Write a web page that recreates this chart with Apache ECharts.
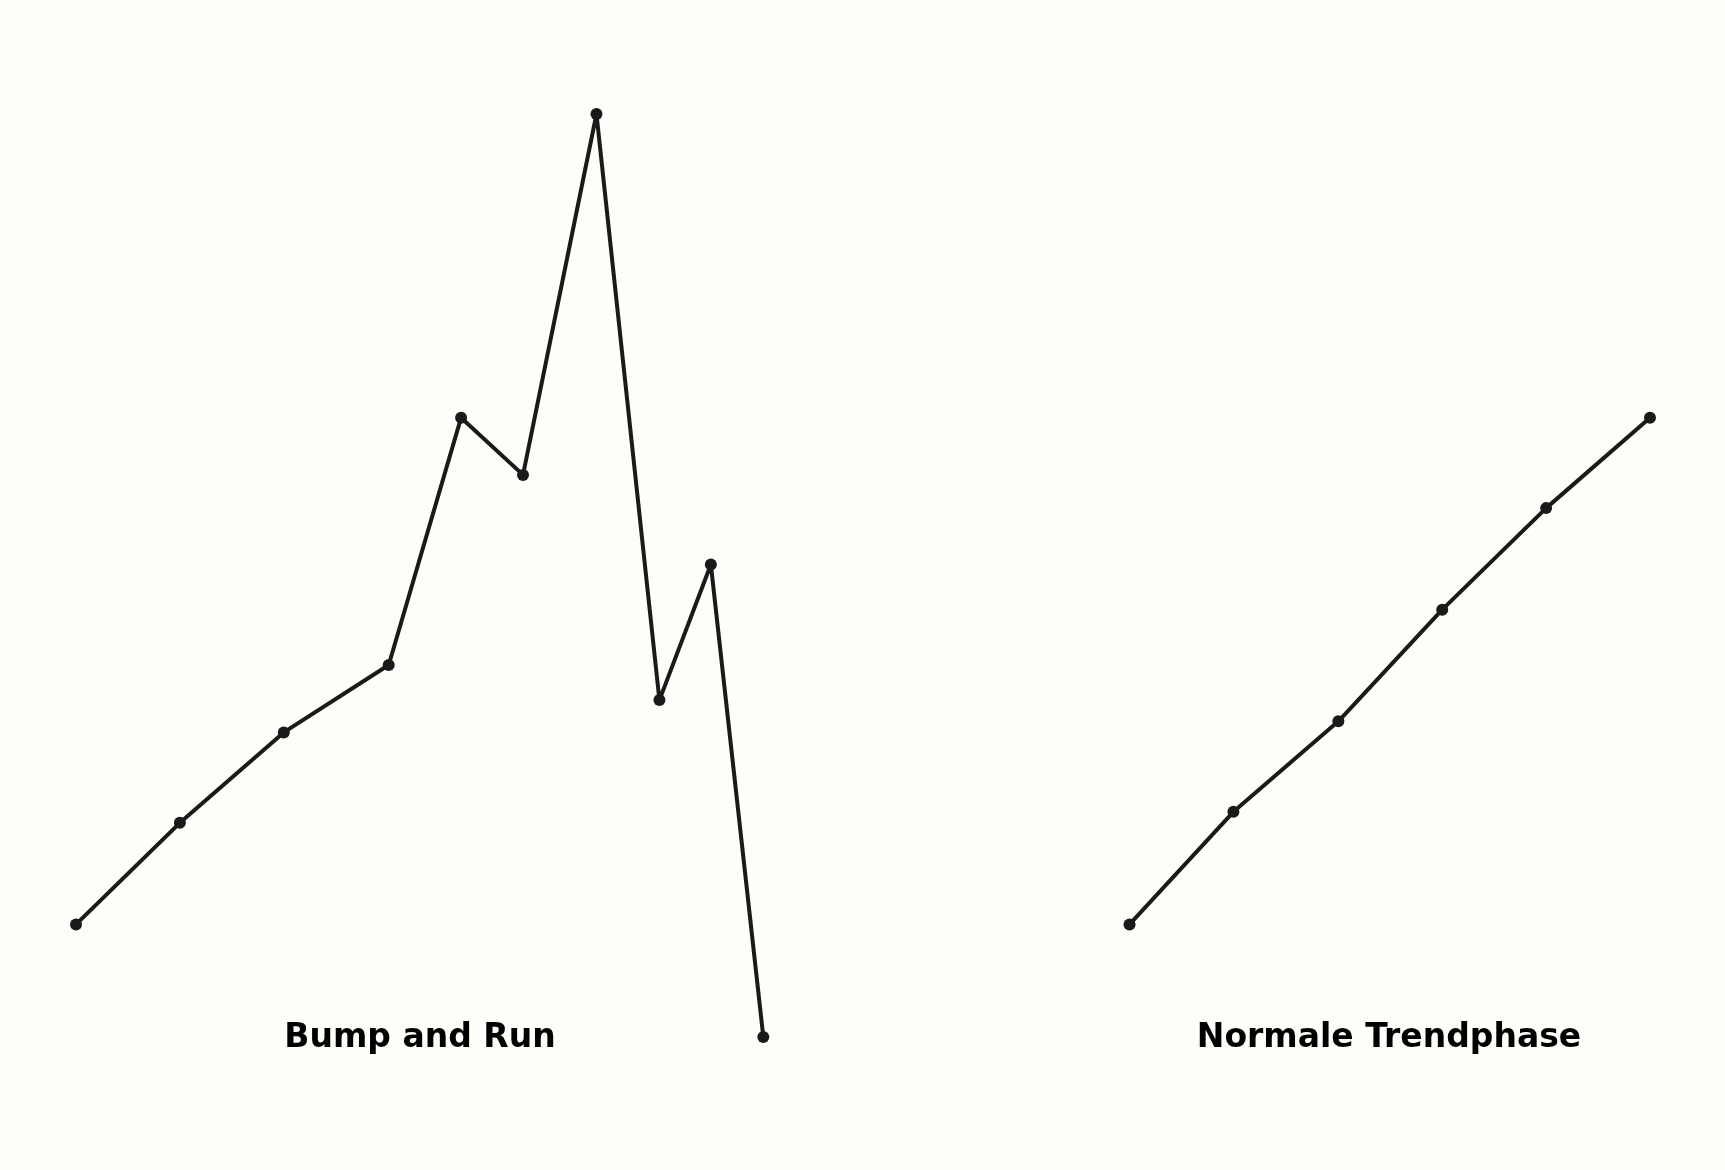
<!DOCTYPE html>
<html>
<head>
    <meta charset="utf-8">
    <title>Bump and Run</title>
    <script src="https://cdn.jsdelivr.net/npm/echarts@6/dist/echarts.min.js"></script>
    <style>
        html, body { margin: 0; padding: 0; background: #fdfdf9; }
    </style>
</head>
<body>
    <div id="main" style="width: 1725px;height:1170px;"></div>
    <script type="text/javascript">
        // Kursverlauf, Werte
        var bumpX = [0, 0.99, 1.98, 2.98, 3.67, 4.26, 4.96, 5.56, 6.05, 6.55];
        var bumpY = [12.2, 23.2, 33.0, 40.3, 67.1, 60.9, 100, 36.5, 51.2, 0];
        var trendX = [10.04, 11.03, 12.03, 13.02, 14.01, 15];
        var trendY = [12.2, 24.4, 34.2, 46.3, 57.3, 67.1];
        var labels = ['Bump and Run', 'Normale Trendphase'];

        function pairs(xs, ys) {
            return xs.map(function (x, i) { return [x, ys[i]]; });
        }

        var myChart = echarts.init(document.getElementById('main'));

        var lineStyle = { color: '#1a1a1a', width: 4 };
        var itemStyle = { color: '#1a1a1a' };

        var option = {
            backgroundColor: '#fdfdf9',
            animation: false,
            grid: { left: 76, right: 75, top: 114, bottom: 133 },
            xAxis: { type: 'value', min: 0, max: 15, show: false },
            yAxis: { type: 'value', min: 0, max: 100, show: false },
            graphic: [
                {
                    type: 'text', x: 420, y: 1038,
                    style: {
                        text: labels[0], fill: '#000', align: 'center', verticalAlign: 'middle',
                        font: 'bold 33px "DejaVu Sans"'
                    }
                },
                {
                    type: 'text', x: 1389, y: 1038,
                    style: {
                        text: labels[1], fill: '#000', align: 'center', verticalAlign: 'middle',
                        font: 'bold 33px "DejaVu Sans"'
                    }
                }
            ],
            series: [
                {
                    type: 'line', data: pairs(bumpX, bumpY),
                    symbol: 'circle', symbolSize: 12, clip: false,
                    lineStyle: lineStyle, itemStyle: itemStyle
                },
                {
                    type: 'line', data: pairs(trendX, trendY),
                    symbol: 'circle', symbolSize: 12, clip: false,
                    lineStyle: lineStyle, itemStyle: itemStyle
                }
            ]
        };

        myChart.setOption(option);
    </script>
</body>
</html>
